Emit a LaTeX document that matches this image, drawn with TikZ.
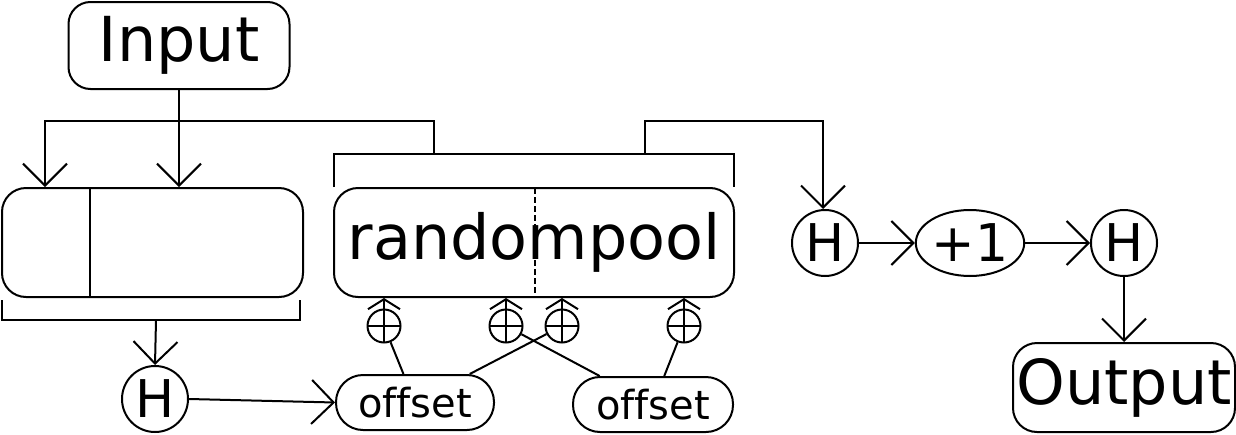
\documentclass[tikz,border=0pt]{standalone}
\usepackage{fontspec}
\setmainfont{DejaVu Sans}[Ligatures=NoCommon]
\usetikzlibrary{arrows.meta,shapes.geometric,calc}
\begin{document}
\begin{tikzpicture}[x=1pt,y=-1pt,line width=2pt,
  arr/.style={-{Straight Barb[length=22pt,width=44pt,line width=2pt]}},
  sarr/.style={-{Straight Barb[length=10pt,width=32pt,line width=2pt]}},
  box/.style={draw,rounded corners=24pt,inner sep=0pt},
  big/.style={font=\fontsize{62}{62}\selectfont},
  hnode/.style={draw,circle,minimum size=66pt,inner sep=0pt,font=\fontsize{52}{52}\selectfont},
  offs/.style={draw,rounded corners=27pt,minimum height=55pt,inner sep=0pt,font=\fontsize{40}{40}\selectfont},
  xor/.style={draw,circle,minimum size=33pt,inner sep=0pt,
    path picture={\draw[line width=2pt] (path picture bounding box.north) -- (path picture bounding box.south)
      (path picture bounding box.west) -- (path picture bounding box.east);}}]
\useasboundingbox (0,0) rectangle (1236,434);

% nodes
\node[box,big,minimum width=221pt,minimum height=87pt,rounded corners=22pt] (in) at (179,45.5) {Input};
\node[box,minimum width=301pt,minimum height=109pt] (lb) at (152.5,242.5) {};
\node[box,big,minimum width=400pt,minimum height=109pt] (rp) at (534,242.5) {randompool};
\node[hnode] (h1) at (155,399) {H};
\node[offs,minimum width=158pt] (o1) at (415,402.5) {offset};
\node[offs,minimum width=160pt] (o2) at (653,404.5) {offset};
\node[hnode] (h2) at (825,243) {H};
\node[draw,ellipse,minimum width=106pt,minimum height=66pt,inner sep=0pt,font=\fontsize{52}{52}\selectfont] (p1) at (970,243) {+1};
\node[hnode] (h3) at (1124,243) {H};
\node[box,big,minimum width=222pt,minimum height=89pt] (out) at (1124,387.5) {Output};
\node[xor] (x1) at (384,326) {};
\node[xor] (x2) at (506,326) {};
\node[xor] (x3) at (562,326) {};
\node[xor] (x4) at (684,326) {};

% inner dividers
\draw (90,188) -- (90,297);
\draw[line width=1.5pt,dash pattern=on 6pt off 3pt] (535,188) -- (535,297);

% coordinates
\coordinate (j1) at (179,121);
\coordinate (jl) at (45,121);
\coordinate (jr) at (434,121);
\coordinate (tb) at (434,154);
\coordinate (tbl) at (334,154);
\coordinate (tbr) at (734,154);
\coordinate (tq) at (645,154);
\coordinate (tq2) at (645,121);
\coordinate (tq3) at (823,121);
\coordinate (bb) at (156,320);

% connectors from Input
\draw[arr] (in.south) -- (in.south |- lb.north);
\draw[arr] (j1) -- (jl) -- (jl |- lb.north);
\draw (j1) -- (jr) -- (tb);
% bracket over randompool
\draw ($(tbl)+(0,33)$) -- (tbl) -- (tbr) -- ($(tbr)+(0,33)$);
\draw[arr] (tq) -- (tq2) -- (tq3) -- (tq3 |- h2.north);
% bracket under left box
\draw (2,300) -- (2,320) -- (300,320) -- (300,300);
\draw[arr] (bb) -- (h1.north);
\draw[arr] (h1.east) -- (o1.west);

% right chain
\draw[arr] (h2.east) -- (p1.west);
\draw[arr] (p1.east) -- (h3.west);
\draw[arr] (h3.south) -- (out.north);

% xor arrows
\foreach \n in {x1,x2,x3,x4} {\draw[sarr] (\n.north) -- (\n.north |- rp.south);}
\draw (x1) -- (o1);
\draw (x3) -- (o1);
\draw (x2) -- (o2);
\draw (x4) -- (o2);
\end{tikzpicture}
\end{document}
